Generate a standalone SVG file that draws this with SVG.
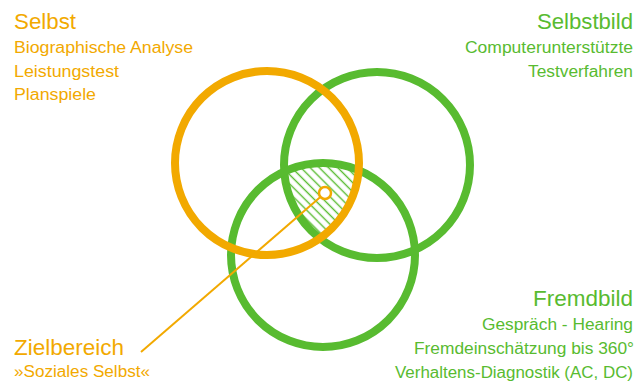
<svg xmlns="http://www.w3.org/2000/svg" width="636" height="382" viewBox="0 0 636 382">
<style>
.o{fill:#F2A900}
.g{fill:#58BB30}
text{font-family:"Liberation Sans",Arial,sans-serif}
.h{font-size:22px}
.s{font-size:16px}
.ring{fill:none;stroke-width:8}
</style>
<defs>
<pattern id="hatch" patternUnits="userSpaceOnUse" width="6.5" height="6.5" patternTransform="rotate(-45)">
<line x1="3.25" y1="-1" x2="3.25" y2="7.5" stroke="#58BB30" stroke-width="1.4"/>
</pattern>
<clipPath id="cA"><circle cx="267" cy="163" r="92"/></clipPath>
<clipPath id="cB"><circle cx="377" cy="165" r="93"/></clipPath>
<clipPath id="cC"><circle cx="323" cy="255" r="92"/></clipPath>
</defs>
<rect width="636" height="382" fill="#ffffff"/>
<g id="hatch-area" clip-path="url(#cA)">
<g clip-path="url(#cB)">
<rect x="200" y="100" width="250" height="250" fill="url(#hatch)" clip-path="url(#cC)"/>
</g>
</g>
<g id="circle-selbstbild"><circle class="ring" cx="377" cy="165" r="93" stroke="#58BB30"/></g>
<g id="circle-fremdbild"><circle class="ring" cx="323" cy="255" r="92" stroke="#58BB30"/></g>
<g id="circle-selbst"><circle class="ring" cx="267" cy="163" r="92" stroke="#F2A900"/></g>
<g id="connectors">
<line x1="141" y1="352" x2="325" y2="193" stroke="#F2A900" stroke-width="2"/>
</g>
<g id="target-point"><circle cx="325" cy="193" r="6" fill="#ffffff" stroke="#F2A900" stroke-width="2.5"/></g>
<g id="label-selbst">
<text class="o h" x="14" y="29" textLength="62" lengthAdjust="spacingAndGlyphs">Selbst</text>
<text class="o s" x="14" y="53" textLength="179" lengthAdjust="spacingAndGlyphs">Biographische Analyse</text>
<text class="o s" x="14" y="77" textLength="105" lengthAdjust="spacingAndGlyphs">Leistungstest</text>
<text class="o s" x="14" y="100" textLength="82" lengthAdjust="spacingAndGlyphs">Planspiele</text>
</g>
<g id="label-selbstbild">
<text class="g h" x="537" y="29" textLength="96" lengthAdjust="spacingAndGlyphs">Selbstbild</text>
<text class="g s" x="465" y="53" textLength="168" lengthAdjust="spacingAndGlyphs">Computerunterstützte</text>
<text class="g s" x="528" y="77" textLength="105" lengthAdjust="spacingAndGlyphs">Testverfahren</text>
</g>
<g id="label-fremdbild">
<text class="g h" x="533" y="306" textLength="100" lengthAdjust="spacingAndGlyphs">Fremdbild</text>
<text class="g s" x="482" y="330" textLength="151" lengthAdjust="spacingAndGlyphs">Gespräch - Hearing</text>
<text class="g s" x="414" y="354" textLength="220" lengthAdjust="spacingAndGlyphs">Fremdeinschätzung bis 360°</text>
<text class="g s" x="395" y="378" textLength="238" lengthAdjust="spacingAndGlyphs">Verhaltens-Diagnostik (AC, DC)</text>
</g>
<g id="label-zielbereich">
<text class="o h" x="14" y="355" textLength="110" lengthAdjust="spacingAndGlyphs">Zielbereich</text>
<text class="o s" x="14" y="377" textLength="136" lengthAdjust="spacingAndGlyphs">»Soziales Selbst«</text>
</g>
</svg>
